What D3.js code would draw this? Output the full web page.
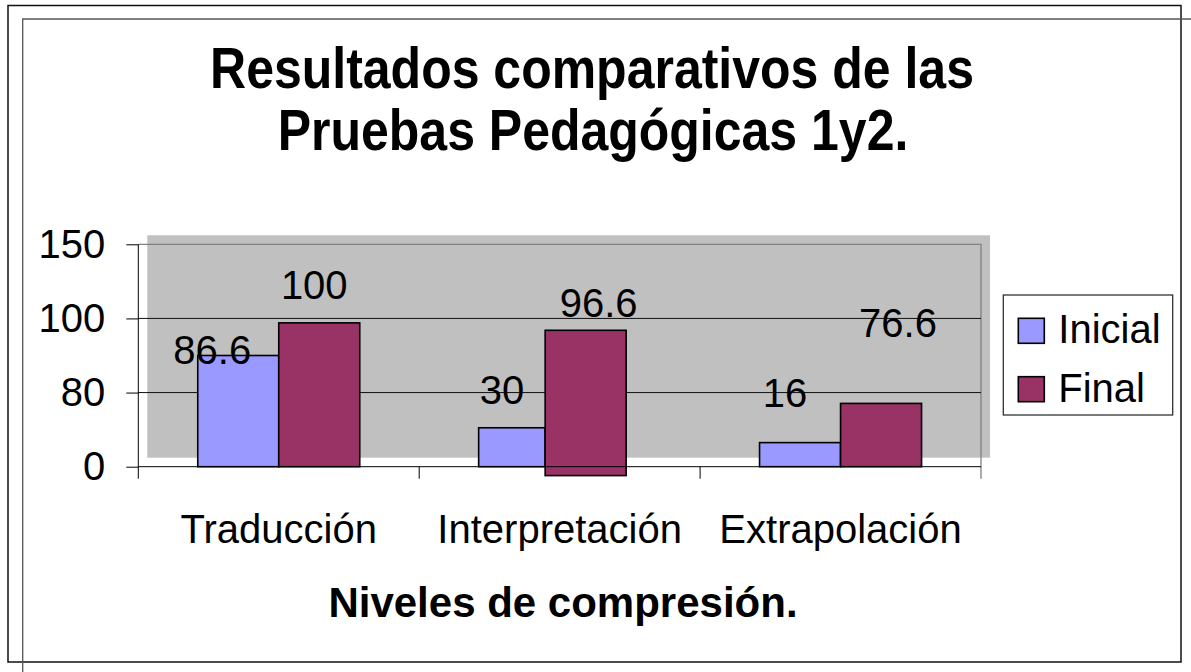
<!DOCTYPE html>
<html>
<head>
<meta charset="utf-8">
<script src="https://cdn.jsdelivr.net/npm/d3@7"></script>
<style>
  body { margin: 0; background: #fff; }
  svg { display: block; }
  text { font-family: "Liberation Sans", Arial, sans-serif; fill: #000; }
</style>
</head>
<body>
<div id="vis"></div>
<script>
// data
var categories = ['Traducción', 'Interpretación', 'Extrapolación'];
var series = ['Inicial', 'Final'];
var inicial = [86.6, 30, 16];      // printed labels
var final = [100, 96.6, 76.6];
// bar tops as they are drawn against the axis (picture doesn't follow the labels)
var inicialDrawn = [90, 42, 26];
var finalDrawn = [98.8, 96.8, 68.3];
var finalBase = [0, -9.6, 0];
var yTicks = [0, 80, 100, 150];

var width = 1191;
var height = 672;

// plot area
var plot = { left: 138.3, right: 981, top: 244.3, bottom: 466.7 };
var groupWidth = 162;
// the Final bar of the middle group sits a bit to the left in the original
var finalShift = [0, -14.5, 0];

var fillColour = d3.scaleOrdinal().domain(series).range(['#9999FF', '#993366']);

// ticks are evenly spaced whatever the value, so a polylinear scale
var step = (plot.bottom - plot.top) / (yTicks.length - 1);
var y = d3.scaleLinear()
  .domain(yTicks)
  .range(yTicks.map(function (d, i) { return plot.bottom - i * step; }));

var x = d3.scaleBand().domain(categories).range([plot.left, plot.right]);
var xs = d3.scaleBand().domain(series).range([0, groupWidth]);

function groupX(c) { return x(c) + (x.bandwidth() - groupWidth) / 2; }

var svg = d3.select('#vis').append('svg')
  .attr('width', width)
  .attr('height', height);

// frames
svg.append('rect')
  .attr('x', 8).attr('y', 5.5)
  .attr('width', 1173).attr('height', 656.5)
  .attr('fill', 'none').attr('stroke', '#111').attr('stroke-width', 1.5);
svg.append('path')
  .attr('d', 'M22.7,672V19H1191')
  .attr('fill', 'none').attr('stroke', '#555').attr('stroke-width', 1.3);

// title (glyphs a little taller than plain Arial)
var titleLines = ['Resultados comparativos de las', 'Pruebas Pedagógicas 1y2.'];
svg.selectAll('.title')
  .data(titleLines)
  .enter().append('text')
  .attr('class', 'title')
  .attr('text-anchor', 'middle')
  .attr('transform', function (d, i) { return 'translate(' + (592 + i) + ',' + (88 + i * 62) + ') scale(1,1.13)'; })
  .style('font-size', '50px')
  .style('font-weight', 'bold')
  .text(function (d) { return d; });

// plot area fill (drawn offset from its frame, like the original)
svg.append('rect')
  .attr('x', plot.left + 9).attr('y', plot.top - 9)
  .attr('width', plot.right - plot.left).attr('height', plot.bottom - plot.top)
  .attr('fill', '#C0C0C0');

// frame top / right
svg.append('path')
  .attr('d', 'M' + plot.left + ',' + plot.top + 'H' + plot.right + 'V' + (plot.bottom + 12))
  .attr('fill', 'none').attr('stroke', '#808080').attr('stroke-width', 1.3);

// gridlines
svg.selectAll('.grid')
  .data(yTicks.filter(function (d) { return d > 0 && d < 150; }))
  .enter().append('line')
  .attr('class', 'grid')
  .attr('x1', plot.left).attr('x2', plot.right)
  .attr('y1', function (d) { return y(d); })
  .attr('y2', function (d) { return y(d); })
  .attr('stroke', '#111').attr('stroke-width', 1);

// bars
var rows = categories.map(function (c, i) {
  var gx = groupX(c);
  var fx = gx + xs('Final') + finalShift[i];
  return [
    { cat: c, s: 'Inicial', top: inicialDrawn[i], base: 0, label: inicial[i], x0: gx, x1: fx },
    { cat: c, s: 'Final', top: finalDrawn[i], base: finalBase[i], label: final[i], x0: fx, x1: fx + xs.bandwidth() }
  ];
});
var bars = d3.merge(rows);

svg.selectAll('.bar')
  .data(bars)
  .enter().append('rect')
  .attr('class', 'bar')
  .attr('x', function (d) { return d.x0; })
  .attr('width', function (d) { return d.x1 - d.x0; })
  .attr('y', function (d) { return y(d.top); })
  .attr('height', function (d) { return y(d.base) - y(d.top); })
  .attr('fill', function (d) { return fillColour(d.s); })
  .attr('stroke', '#000')
  .attr('stroke-width', 1.6);

// y axis
var yAxis = svg.append('g')
  .attr('transform', 'translate(' + plot.left + ',0)')
  .call(d3.axisLeft(y).tickValues(yTicks).tickSize(12).tickPadding(21));
yAxis.select('.domain').remove();
yAxis.selectAll('.tick line').attr('stroke', '#000');
yAxis.selectAll('.tick text')
  .style('font-size', '40px')
  .style('font-family', '"Liberation Sans", Arial, sans-serif');
svg.append('line')
  .attr('x1', plot.left).attr('x2', plot.left)
  .attr('y1', plot.top).attr('y2', plot.bottom + 12)
  .attr('stroke', '#000').attr('stroke-width', 1);

// x axis
svg.append('line')
  .attr('x1', plot.left).attr('x2', plot.right)
  .attr('y1', plot.bottom).attr('y2', plot.bottom)
  .attr('stroke', '#000').attr('stroke-width', 1);
var bounds = categories.map(function (c) { return x(c); }).concat([plot.right]);
svg.selectAll('.xtick')
  .data(bounds.slice(1, 3))
  .enter().append('line')
  .attr('class', 'xtick')
  .attr('x1', function (d) { return d; }).attr('x2', function (d) { return d; })
  .attr('y1', plot.bottom).attr('y2', plot.bottom + 12)
  .attr('stroke', '#000');

var xAxis = svg.append('g')
  .attr('transform', 'translate(0,' + plot.bottom + ')')
  .call(d3.axisBottom(x).tickSize(0).tickPadding(48));
xAxis.select('.domain').remove();
xAxis.selectAll('.tick text')
  .style('font-size', '40px')
  .style('font-family', '"Liberation Sans", Arial, sans-serif');

svg.append('text')
  .attr('x', 563).attr('y', 617)
  .attr('text-anchor', 'middle')
  .style('font-size', '42px')
  .style('font-weight', 'bold')
  .text('Niveles de compresión.');

// data labels, nudged as in the original
var nudge = [[-26, 8], [-5, -24], [-10, -24], [13, -13], [-15, -36], [17, -66]];
svg.selectAll('.label')
  .data(bars)
  .enter().append('text')
  .attr('class', 'label')
  .attr('text-anchor', 'middle')
  .style('font-size', '40px')
  .attr('x', function (d, i) { return (d.x0 + d.x1) / 2 + nudge[i][0]; })
  .attr('y', function (d, i) { return y(d.top) + nudge[i][1]; })
  .text(function (d) { return d.label; });

// legend
var legend = svg.append('g').attr('transform', 'translate(1003.3,295)');
legend.append('rect')
  .attr('width', 169.4).attr('height', 120)
  .attr('fill', '#fff').attr('stroke', '#333').attr('stroke-width', 1.3);
var item = legend.selectAll('.item')
  .data(series)
  .enter().append('g')
  .attr('class', 'item')
  .attr('transform', function (d, i) { return 'translate(15,' + (23.3 + i * 58.4) + ')'; });
item.append('rect')
  .attr('width', 26).attr('height', 25)
  .attr('fill', function (d) { return fillColour(d); })
  .attr('stroke', '#000').attr('stroke-width', 1.6);
item.append('text')
  .attr('x', 40).attr('y', 25)
  .style('font-size', '40px')
  .text(function (d) { return d; });
</script>
</body>
</html>
